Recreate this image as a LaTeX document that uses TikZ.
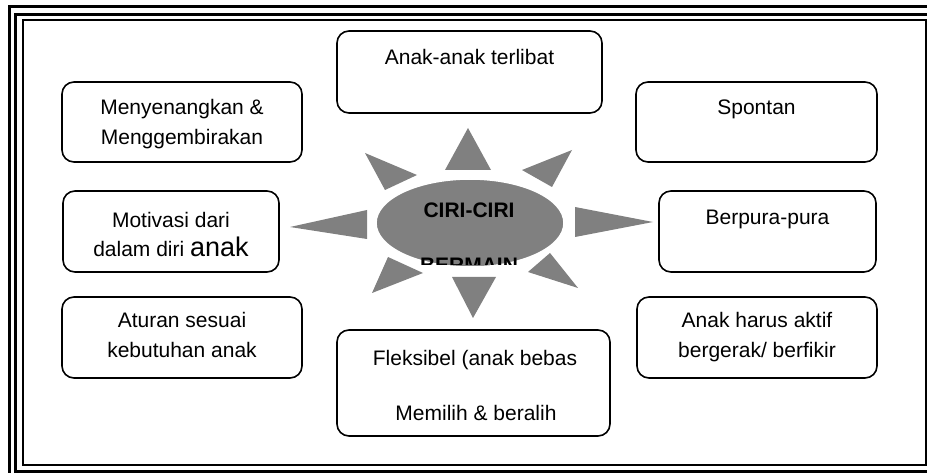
\documentclass[tikz,border=0pt]{standalone}
\usepackage{fontspec}
\setmainfont{Liberation Sans}
\usetikzlibrary{shapes.geometric}
\definecolor{sungray}{HTML}{808080}
\tikzset{
  box/.style={draw=black, rounded corners=12pt, line width=1.6pt, inner sep=0pt, fill=white},
  lbl/.style={font=\fontsize{21}{25}\selectfont, anchor=base, inner sep=0pt},
  ttl/.style={font=\fontsize{21}{25}\selectfont\bfseries, anchor=base, inner sep=0pt},
  ray/.style={fill=sungray},
  frameline/.style={draw=black}
}
\begin{document}
\begin{tikzpicture}[x=1pt,y=-1pt]
\clip (0,0) rectangle (927,473);
\fill[white] (0,0) rectangle (927,473);
% page border
\draw[frameline, line width=3pt] (9.5,6.5) rectangle (940,490);
\draw[frameline, line width=3pt] (15.5,14.5) rectangle (932,471.5);
\draw[frameline, line width=2pt] (23,20) rectangle (925.5,464.5);
% boxes
\node[box, minimum width=265pt, minimum height=82pt] (b1) at (469.5,72) {};
\node[box, minimum width=240pt, minimum height=80pt] (b2) at (182,122) {};
\node[box, minimum width=241pt, minimum height=80pt] (b3) at (756.5,122) {};
\node[box, minimum width=216pt, minimum height=81pt] (b4) at (171,231.5) {};
\node[box, minimum width=217pt, minimum height=81pt] (b5) at (767.5,231.5) {};
\node[box, minimum width=240pt, minimum height=81pt] (b6) at (182,337.5) {};
\node[box, minimum width=240pt, minimum height=81pt] (b7) at (757,337.5) {};
\node[box, minimum width=273pt, minimum height=106pt] (b8) at (473.5,383) {};
% texts
\node[lbl] (t1) at (469.5,65) {Anak-anak terlibat};
\node[lbl] (t2a) at (182,115) {Menyenangkan \&};
\node[lbl] (t2b) at (182,145) {Menggembirakan};
\node[lbl] (t3) at (756.5,115) {Spontan};
\node[lbl] (t4a) at (171,228) {Motivasi dari};
\node[lbl] (t4b) at (171,257) {dalam diri {\fontsize{27}{30}\selectfont anak}};
\node[lbl] (t5) at (767.5,225) {Berpura-pura};
\node[lbl] (t6a) at (182,327) {Aturan sesuai};
\node[lbl] (t6b) at (182,357) {kebutuhan anak};
\node[lbl] (t7a) at (757,327) {Anak harus aktif};
\node[lbl] (t7b) at (757,357) {bergerak/ berfikir};
\node[lbl] (t8a) at (475,365) {Fleksibel (anak bebas};
\node[lbl] (t8b) at (476,420) {Memilih \& beralih};
% sun rays
\fill[ray] (468,128) -- (445,170) -- (491,170) -- cycle;
\fill[ray] (473,318) -- (452,277) -- (496,277) -- cycle;
\fill[ray] (290,227) -- (367,210) -- (367,239) -- cycle;
\fill[ray] (653,222) -- (575,207) -- (575,237) -- cycle;
\fill[ray] (365,153) -- (417,175) -- (385,190) -- cycle;
\fill[ray] (572,150) -- (522,170) -- (552,187) -- cycle;
\fill[ray] (372,293) -- (388,257) -- (423,273) -- cycle;
\fill[ray] (578,288) -- (550,253) -- (528,272) -- cycle;
\node[ellipse, fill=sungray, draw=white, line width=1.5pt, minimum width=188pt, minimum height=88pt, inner sep=0pt] (sun) at (470,223) {};
\node[ttl] (c1) at (469,218) {CIRI-CIRI};
\begin{scope}
\clip (380,180) rectangle (560,265);
\node[ttl] (c2) at (469,273) {BERMAIN};
\end{scope}
\end{tikzpicture}
\end{document}
